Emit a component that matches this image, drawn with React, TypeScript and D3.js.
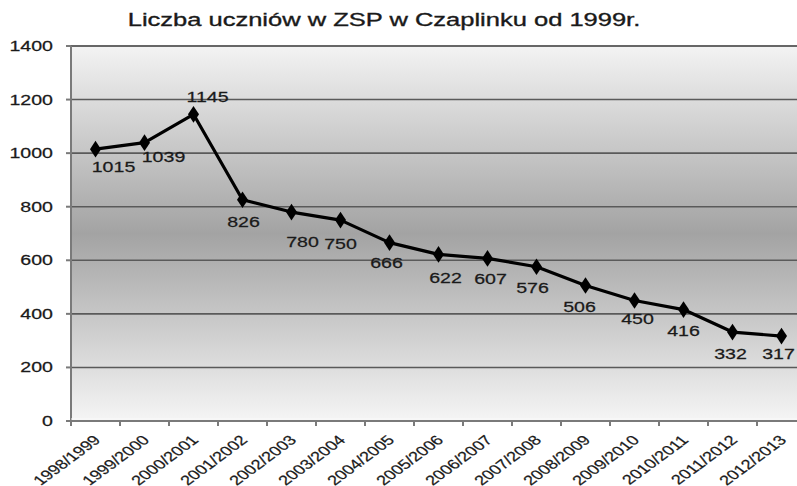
import * as d3 from 'd3'

const years = [
  '1998/1999', '1999/2000', '2000/2001', '2001/2002', '2002/2003',
  '2003/2004', '2004/2005', '2005/2006', '2006/2007', '2007/2008',
  '2008/2009', '2009/2010', '2010/2011', '2011/2012', '2012/2013'
]
const students = [1015, 1039, 1145, 826, 780, 750, 666, 622, 607, 576, 506, 450, 416, 332, 317]
const yTicks = [0, 200, 400, 600, 800, 1000, 1200, 1400]
const title = 'Liczba uczniów w ZSP w Czaplinku od 1999r.'

// label nudges (dx, dy from the point), the original places them by hand
const labelNudge: [number, number][] = [
  [18, 23], [19, 19], [14, -12], [1, 27], [11, 35], [0, 29], [-3, 25], [7, 29],
  [3, 26], [-4, 26], [-6, 27], [3, 24], [0, 26], [-2, 27], [-3, 23]
]

const W = 797
const H = 486
const left = 71
const top = 46
const bottom = 421
const bandW = 49
const sx = 1.35 // the source picture is stretched sideways
const font = '"Liberation Sans", Arial, sans-serif'
const ink = '#1a1a1a'

export default function App() {
  const x = d3.scaleBand<string>().domain(years).range([left, left + bandW * years.length])
  const y = d3.scaleLinear().domain([0, 1400]).range([bottom, top])
  const cx = (d: string) => (x(d) ?? 0) + x.bandwidth() / 2

  const line = d3.line<number>()
    .x((_, i) => cx(years[i]))
    .y(d => y(d))

  const diamond = d3.symbol().type(d3.symbolDiamond).size(80)()

  return (
    <div style={{ position: 'absolute', left: 0, top: 0 }}>
      <svg width={W} height={H} style={{ display: 'block', background: '#fff' }} fontFamily={font}>
        <defs>
          <linearGradient id="bg" x1="0" y1="0" x2="0" y2="1">
            <stop offset="0%" stopColor="#f3f3f3" />
            <stop offset="50%" stopColor="#a3a3a3" />
            <stop offset="100%" stopColor="#f5f5f5" />
          </linearGradient>
        </defs>

        <text transform={`translate(384,26) scale(${sx},1)`} textAnchor="middle"
          fontSize={18.9} fill={ink} stroke={ink} strokeWidth={0.35}>{title}</text>

        <rect x={left} y={top} width={W - left} height={bottom - top} fill="url(#bg)" />
        <line x1={left} x2={W} y1={top} y2={top} stroke="#8a8a8a" strokeWidth={2} />

        {yTicks.filter(t => t > 0).map(t => (
          <line key={t} x1={left} x2={W} y1={y(t)} y2={y(t)} stroke="#5a5a5a" strokeWidth={1.6} />
        ))}

        {/* axes */}
        <line x1={left} x2={left} y1={top} y2={bottom} stroke="#7a7a7a" strokeWidth={2} />
        <line x1={left} x2={W} y1={bottom} y2={bottom} stroke="#7a7a7a" strokeWidth={2} />
        <line x1={left} x2={W} y1={bottom - 2} y2={bottom - 2} stroke="#fafafa" strokeWidth={1} />

        {yTicks.map(t => (
          <g key={t}>
            <line x1={left - 5} x2={left} y1={y(t)} y2={y(t)} stroke="#7a7a7a" strokeWidth={2} />
            <text transform={`translate(${left - 18},${y(t) + 5}) scale(${sx},1)`} textAnchor="end"
              fontSize={14.5} fill={ink} stroke={ink} strokeWidth={0.25}>{t}</text>
          </g>
        ))}

        {years.map(d => (
          <g key={d}>
            <line x1={x(d)} x2={x(d)} y1={bottom} y2={bottom + 5} stroke="#7a7a7a" strokeWidth={2} />
            <text transform={`translate(${cx(d) + 6},${bottom + 20}) scale(${sx},1) rotate(-45)`}
              textAnchor="end" fontSize={13.5} fill={ink} stroke={ink} strokeWidth={0.2}>{d}</text>
          </g>
        ))}

        <path d={line(students) ?? ''} fill="none" stroke="#000" strokeWidth={3.2} strokeLinejoin="round" />
        {students.map((v, i) => (
          <path key={i} d={diamond ?? ''} transform={`translate(${cx(years[i])},${y(v)}) scale(1.15,1)`} fill="#000" />
        ))}

        {students.map((v, i) => (
          <text key={i}
            transform={`translate(${cx(years[i]) + labelNudge[i][0]},${y(v) + labelNudge[i][1]}) scale(${sx},1)`}
            textAnchor="middle" fontSize={14.5} fill={ink} stroke={ink} strokeWidth={0.25}>{v}</text>
        ))}
      </svg>
    </div>
  )
}
